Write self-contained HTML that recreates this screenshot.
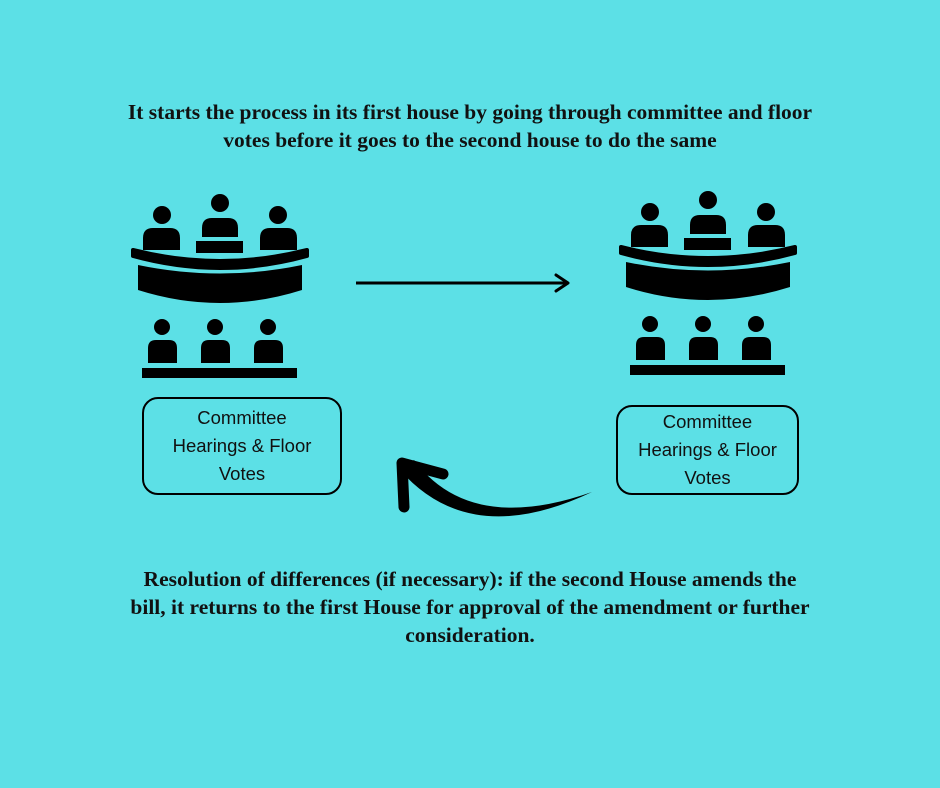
<!DOCTYPE html>
<html><head><style>
body{margin:0;width:940px;height:788px;background:#5ce0e6;position:relative;overflow:hidden;font-family:"Liberation Sans",sans-serif}
.t{position:absolute;left:0;width:940px;text-align:center;font-family:"Liberation Serif",serif;font-weight:bold;font-size:21.5px;line-height:28px;color:#111}
.box{position:absolute;border:2px solid #000;border-radius:16px;box-sizing:border-box;text-align:center;font-size:18.5px;line-height:28px;color:#111;display:flex;align-items:center;justify-content:center}
</style></head><body>
<div class="t" style="top:98px">It starts the process in its first house by going through committee and floor<br>votes before it goes to the second house to do the same</div>
<div class="t" style="top:565px">Resolution of differences (if necessary): if the second House amends the<br>bill, it returns to the first House for approval of the amendment or further<br>consideration.</div>
<div class="box" style="left:142px;top:397px;width:200px;height:98px">Committee<br>Hearings &amp; Floor<br>Votes</div>
<div class="box" style="left:616px;top:405px;width:183px;height:90px">Committee<br>Hearings &amp; Floor<br>Votes</div>
<svg width="940" height="788" style="position:absolute;left:0;top:0">
<defs>
<g id="ic" fill="#000">
<circle cx="42" cy="25" r="9"/><circle cx="100" cy="13" r="9"/><circle cx="158" cy="25" r="9"/>
<path d="M23 60 V48 Q23 38 33 38 H50 Q60 38 60 48 V60Z"/>
<path d="M140 60 V48 Q140 38 150 38 H167 Q177 38 177 48 V60Z"/>
<path d="M82 47 V38 Q82 28 92 28 H108 Q118 28 118 38 V47Z"/>
<rect x="76" y="51" width="47" height="12"/>
<path d="M13 60 Q100 82 187 60 L187 66 Q100 90 13 66Z" stroke="#000" stroke-width="4" stroke-linejoin="round"/>
<path d="M18 75 Q100 92 182 75 V100 Q100 126 18 100Z"/>
<circle cx="42" cy="137" r="8"/><circle cx="95" cy="137" r="8"/><circle cx="148" cy="137" r="8"/>
<path d="M28 173 V158 Q28 150 36 150 H49 Q57 150 57 158 V173Z"/>
<path d="M81 173 V158 Q81 150 89 150 H102 Q110 150 110 158 V173Z"/>
<path d="M134 173 V158 Q134 150 142 150 H155 Q163 150 163 158 V173Z"/>
<rect x="22" y="178" width="155" height="10"/>
</g>
</defs>
<use href="#ic" transform="translate(120,190)"/>
<use href="#ic" transform="translate(608,187)"/>
<line x1="356" y1="283" x2="567" y2="283" stroke="#000" stroke-width="3"/>
<polyline points="556,275 568,283 556,291" fill="none" stroke="#000" stroke-width="3" stroke-linecap="round" stroke-linejoin="round"/>
<path d="M400 470 Q470 550 592 492 Q470 535 414 460Z" fill="#000"/>
<polyline points="443,474 402,463 404,507" fill="none" stroke="#000" stroke-width="11" stroke-linecap="round" stroke-linejoin="round"/>
</svg>
</body></html>
